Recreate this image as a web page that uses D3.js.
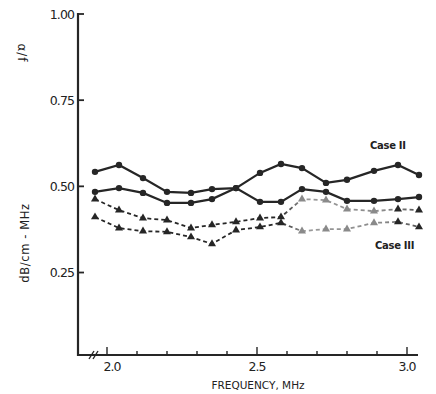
<!DOCTYPE html>
<html>
<head>
<meta charset="utf-8">
<script src="https://cdn.jsdelivr.net/npm/d3@7"></script>
<style>
body { margin: 0; background: #fff; }
svg text { font-family: "DejaVu Sans", sans-serif; fill: #222; }
</style>
</head>
<body>
<svg id="chart" width="436" height="394"></svg>
<script>
// frequencies of the measured points (MHz)
var freqs = [1.96, 2.04, 2.12, 2.20, 2.28, 2.35, 2.43, 2.51, 2.58, 2.65, 2.73, 2.80, 2.89, 2.97, 3.04]
// Case II (solid) and Case III (dashed), alpha/f in dB/cm-MHz
var caseIIa = [0.542, 0.562, 0.524, 0.484, 0.481, 0.492, 0.495, 0.539, 0.565, 0.553, 0.510, 0.519, 0.545, 0.562, 0.533]
var caseIIb = [0.484, 0.495, 0.481, 0.452, 0.452, 0.463, 0.495, 0.455, 0.455, 0.492, 0.484, 0.458, 0.458, 0.463, 0.469]
var caseIIIa = [0.463, 0.431, 0.408, 0.402, 0.379, 0.388, 0.397, 0.408, 0.411, 0.463, 0.460, 0.434, 0.428, 0.434, 0.431]
var caseIIIb = [0.411, 0.379, 0.370, 0.368, 0.353, 0.333, 0.373, 0.382, 0.394, 0.370, 0.376, 0.376, 0.394, 0.397, 0.382]
var yTicks = [0.25, 0.50, 0.75, 1.00]
var xLabels = [2.0, 2.5, 3.0]

var svg = d3.select('#chart')
var ink = '#262626'

var x = d3.scaleLinear().domain([2.0, 3.0]).range([107, 407])
var y = d3.scaleLinear().domain([0, 1.0]).range([358.7, 14])

var xLeft = 78, xRight = 418, yBase = 355

// gradient for the faded right side of the dashed curves
var grad = svg.append('defs').append('linearGradient')
	.attr('id', 'fade')
	.attr('gradientUnits', 'userSpaceOnUse')
	.attr('x1', 0).attr('x2', 436).attr('y1', 0).attr('y2', 0)
grad.append('stop').attr('offset', 0.64).attr('stop-color', ink)
grad.append('stop').attr('offset', 0.70).attr('stop-color', '#9a9a9a')
grad.append('stop').attr('offset', 0.88).attr('stop-color', '#8a8a8a')
grad.append('stop').attr('offset', 0.96).attr('stop-color', '#555')

// y axis
svg.append('line')
	.attr('x1', xLeft).attr('x2', xLeft)
	.attr('y1', y(1.0) - 1).attr('y2', yBase + 1)
	.attr('stroke', ink).attr('stroke-width', 2.2)
svg.append('g').selectAll('line').data(yTicks).join('line')
	.attr('x1', xLeft).attr('x2', xLeft + 6)
	.attr('y1', function(d) { return y(d) }).attr('y2', function(d) { return y(d) })
	.attr('stroke', ink).attr('stroke-width', 1.8)
svg.append('g').selectAll('text').data(yTicks).join('text')
	.attr('x', xLeft - 4)
	.attr('y', function(d) { return y(d) + 4.5 })
	.attr('text-anchor', 'end')
	.style('font-size', '12.5px')
	.style('letter-spacing', '-0.9px')
	.text(function(d) { return d.toFixed(2) })

// x axis
svg.append('line')
	.attr('x1', xLeft - 1).attr('x2', xRight)
	.attr('y1', yBase).attr('y2', yBase)
	.attr('stroke', ink).attr('stroke-width', 1.8)
var minor = d3.range(2.0, 3.11, 0.1)
svg.append('g').selectAll('line').data(minor).join('line')
	.attr('x1', function(d) { return x(d) }).attr('x2', function(d) { return x(d) })
	.attr('y1', yBase)
	.attr('y2', function(d, i) { return i % 5 == 0 ? yBase - 8 : yBase - 4 })
	.attr('stroke', ink).attr('stroke-width', 1.4)
// axis break
svg.append('g').selectAll('line').data([0, 4]).join('line')
	.attr('x1', function(d) { return 89 + d }).attr('x2', function(d) { return 94 + d })
	.attr('y1', yBase + 4).attr('y2', yBase - 4)
	.attr('stroke', ink).attr('stroke-width', 1.4)
svg.append('g').selectAll('text').data(xLabels).join('text')
	.attr('x', function(d) { return x(d) + (d == 2.0 ? 5 : 0) })
	.attr('y', yBase + 16)
	.attr('text-anchor', 'middle')
	.style('font-size', '12.5px')
	.style('letter-spacing', '-0.9px')
	.text(function(d) { return d.toFixed(1) })
svg.append('text')
	.attr('x', 258).attr('y', 389)
	.attr('text-anchor', 'middle')
	.style('font-size', '10.5px')
	.text('FREQUENCY, MHz')

// y axis titles
svg.append('text')
	.attr('transform', 'translate(29,243) rotate(-90)')
	.attr('text-anchor', 'middle')
	.style('font-size', '11.5px')
	.style('letter-spacing', '0.6px')
	.text('dB/cm - MHz')
svg.append('text')
	.attr('transform', 'translate(18,53) rotate(90)')
	.attr('text-anchor', 'middle')
	.style('font-size', '12px')
	.style('letter-spacing', '1px')
	.text('\u03B1/f')

// curves
var line = d3.line()
	.x(function(d) { return x(d[0]) })
	.y(function(d) { return y(d[1]) })

function series(vals, dashed, marker) {
	var pts = freqs.map(function(f, i) { return [f, vals[i]] })
	var g = svg.append('g')
	var col = dashed ? 'url(#fade)' : ink
	g.append('path')
		.datum(pts)
		.attr('d', line)
		.attr('fill', 'none')
		.attr('stroke', col)
		.attr('stroke-width', dashed ? 1.8 : 2.2)
		.attr('stroke-dasharray', dashed ? '4,3' : null)
	var sym = d3.symbol().type(marker == 'tri' ? d3.symbolTriangle : d3.symbolCircle)
		.size(marker == 'tri' ? 28 : 32)
	g.selectAll('path.pt').data(pts).join('path')
		.attr('class', 'pt')
		.attr('d', sym)
		.attr('transform', function(d) { return 'translate(' + x(d[0]) + ',' + y(d[1]) + ')' })
		.attr('fill', function(d) { return dashed && x(d[0]) > 290 && x(d[0]) < 395 ? '#8a8a8a' : ink })
}
series(caseIIa, false, 'dot')
series(caseIIb, false, 'dot')
series(caseIIIa, true, 'tri')
series(caseIIIb, true, 'tri')

svg.append('text')
	.attr('x', 370).attr('y', 149)
	.style('font-size', '10px')
	.style('font-weight', 'bold')
	.style('letter-spacing', '-0.3px')
	.text('Case II')
svg.append('text')
	.attr('x', 375).attr('y', 249)
	.style('font-size', '10px')
	.style('font-weight', 'bold')
	.style('letter-spacing', '-0.3px')
	.text('Case III')
</script>
</body>
</html>
